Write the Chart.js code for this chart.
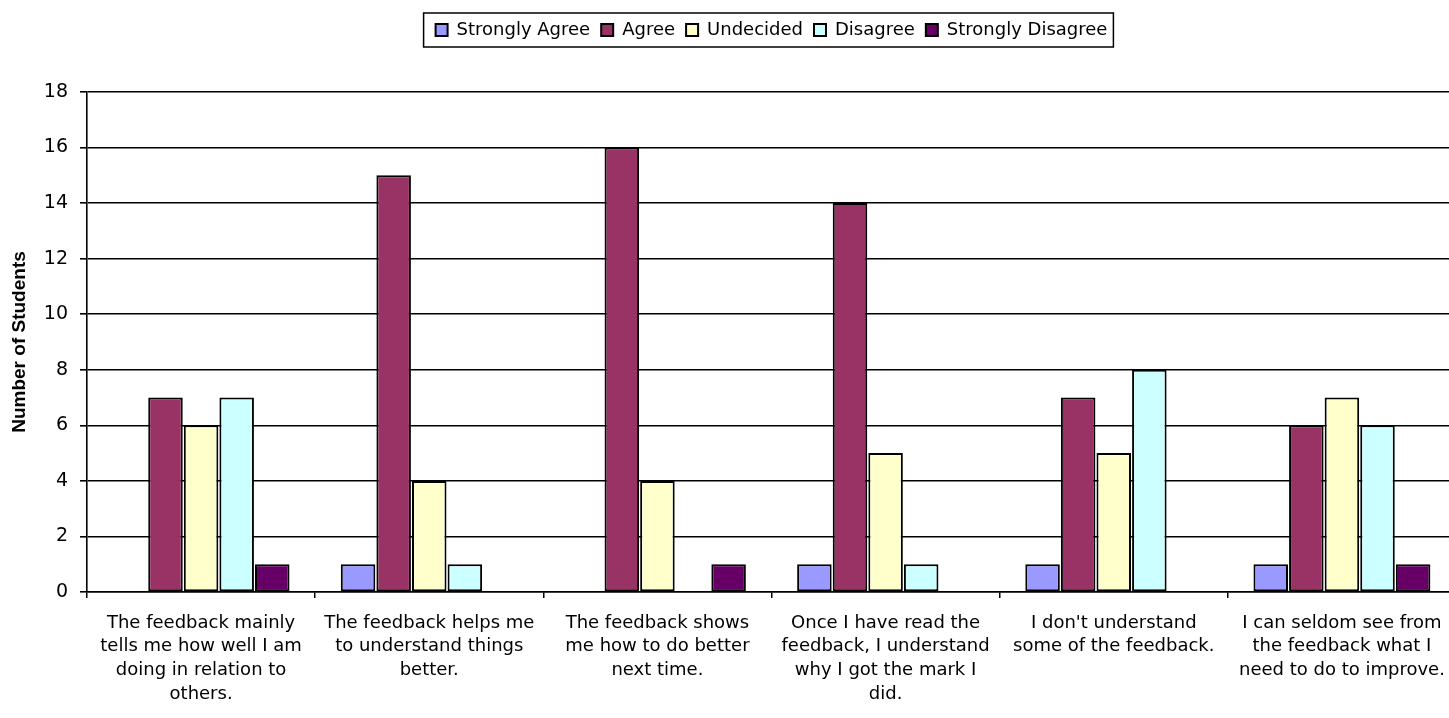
<!DOCTYPE html>
<html>
<head>
<meta charset="utf-8">
<script src="https://cdn.jsdelivr.net/npm/chart.js@4/dist/chart.umd.min.js"></script>
<style>
  html, body { margin: 0; padding: 0; background: #fff; overflow: hidden; }
  #wrap { position: relative; width: 1460px; height: 718px; }
</style>
</head>
<body>
<div id="wrap"><canvas id="c"></canvas></div>
<script>
const categories = [
  ["The feedback mainly", "tells me how well I am", "doing in relation to", "others."],
  ["The feedback helps me", "to understand things", "better."],
  ["The feedback shows", "me how to do better", "next time."],
  ["Once I have read the", "feedback, I understand", "why I got the mark I", "did."],
  ["I don't understand", "some of the feedback."],
  ["I can seldom see from", "the feedback what I", "need to do to improve."]
];
const stronglyAgree    = [0, 1, 0, 1, 1, 1];
const agree            = [7, 15, 16, 14, 7, 6];
const undecided        = [6, 4, 4, 5, 5, 7];
const disagree         = [7, 1, 0, 1, 8, 6];
const stronglyDisagree = [1, 0, 1, 0, 0, 1];
const yTicks = [0, 2, 4, 6, 8, 10, 12, 14, 16, 18];

const FONT = "'DejaVu Sans', sans-serif";
const LEGEND_HEIGHT = 82;

const legendBox = {
  id: 'legendBox',
  beforeLayout(chart) {
    const lg = chart.legend;
    if (lg && !lg._patched) {
      const orig = lg.fit.bind(lg);
      lg.fit = function () { orig(); this.height = LEGEND_HEIGHT; };
      lg._patched = true;
    }
  },
  afterDraw(chart) {
    const lg = chart.legend;
    const hb = lg && lg.legendHitBoxes;
    if (!hb || !hb.length) return;
    const l = Math.min(...hb.map(b => b.left)) - 12;
    const r = Math.max(...hb.map(b => b.left + b.width)) + 6;
    const cy = hb[0].top + hb[0].height / 2;
    const ctx = chart.ctx;
    ctx.save();
    ctx.strokeStyle = '#000';
    ctx.lineWidth = 1.5;
    ctx.strokeRect(l, cy - 17, r - l, 34);
    ctx.restore();
  }
};

function ds(label, data, color) {
  return {
    label, data,
    backgroundColor: color,
    borderColor: '#000',
    borderWidth: 2,
    borderSkipped: false,
    categoryPercentage: 0.78,
    barPercentage: 0.97
  };
}

new Chart(document.getElementById('c'), {
  type: 'bar',
  data: {
    labels: categories,
    datasets: [
      ds('Strongly Agree', stronglyAgree, '#9999FF'),
      ds('Agree', agree, '#993366'),
      ds('Undecided', undecided, '#FFFFCC'),
      ds('Disagree', disagree, '#CCFFFF'),
      ds('Strongly Disagree', stronglyDisagree, '#660066')
    ]
  },
  options: {
    responsive: true,
    maintainAspectRatio: false,
    animation: false,
    layout: { padding: { top: 10, right: 4, left: 0, bottom: 0 } },
    plugins: {
      tooltip: { enabled: false },
      legend: {
        position: 'top',
        fullSize: false,
        labels: {
          boxWidth: 12,
          boxHeight: 12,
          padding: 11,
          color: '#000',
          font: { family: FONT, size: 18 }
        }
      }
    },
    scales: {
      x: {
        grid: {
          display: true,
          drawOnChartArea: false,
          offset: true,
          tickLength: 6,
          color: '#000',
          lineWidth: 1.5
        },
        border: { color: '#000', width: 1.5 },
        ticks: {
          color: '#000',
          maxRotation: 0,
          autoSkip: false,
          padding: 13,
          font: { family: FONT, size: 18, lineHeight: 1.32 }
        },
        afterFit(scale) { scale.height = 126; }
      },
      y: {
        min: 0,
        max: 18,
        afterBuildTicks(scale) { scale.ticks = yTicks.map(v => ({ value: v })); },
        grid: { color: '#000', lineWidth: 1.6, tickLength: 7 },
        border: { color: '#000', width: 1.6 },
        ticks: {
          color: '#000',
          padding: 12,
          font: { family: FONT, size: 19 }
        },
        title: {
          display: true,
          text: 'Number of Students',
          color: '#000',
          padding: { top: 8, bottom: 0 },
          font: { family: "'Liberation Sans', Arial, sans-serif", size: 19, weight: 'bold' }
        },
        afterFit(scale) { scale.width = 87; }
      }
    }
  },
  plugins: [legendBox]
});
</script>
</body>
</html>
